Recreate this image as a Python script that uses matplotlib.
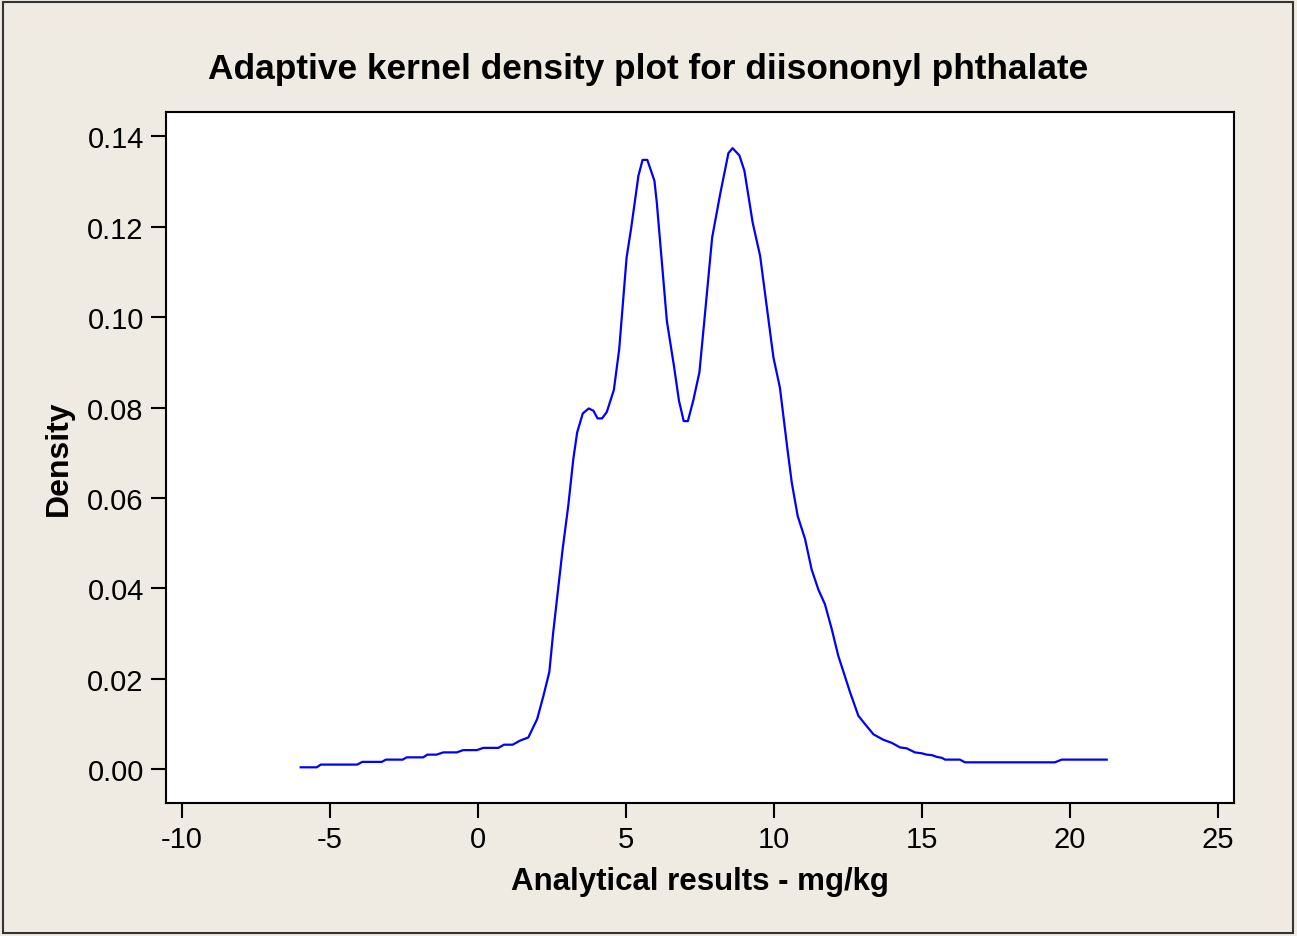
import matplotlib.pyplot as plt
from matplotlib.patches import Rectangle

# Density curve (x in mg/kg, y density)
x_vals = [-5.99, -5.45, -5.31, -4.08, -3.91, -3.25, -3.11, -2.54, -2.41, -1.85,
          -1.71, -1.40, -1.17, -0.72, -0.50, -0.04, 0.18, 0.69, 0.88, 1.17,
          1.42, 1.70, 2.00, 2.21, 2.41, 2.54, 2.68, 2.86, 3.05, 3.22,
          3.35, 3.54, 3.74, 3.90, 4.04, 4.19, 4.35, 4.59, 4.77, 5.02,
          5.17, 5.42, 5.56, 5.72, 5.96, 6.04, 6.38, 6.62, 6.79, 6.95,
          7.09, 7.27, 7.48, 7.63, 7.91, 8.18, 8.46, 8.60, 8.83, 9.00,
          9.28, 9.53, 9.98, 10.20, 10.45, 10.60, 10.80, 11.05, 11.27, 11.50,
          11.72, 11.95, 12.17, 12.57, 12.85, 13.07, 13.36, 13.69, 13.98, 14.26,
          14.48, 14.76, 14.99, 15.16, 15.33, 15.50, 15.67, 15.78, 16.28, 16.45,
          19.49, 19.72, 21.24]
density = [0.0004, 0.0004, 0.0010, 0.0010, 0.0016, 0.0016, 0.0021, 0.0021, 0.0026, 0.0026,
           0.0032, 0.0032, 0.0037, 0.0037, 0.0042, 0.0042, 0.0047, 0.0047, 0.0054, 0.0054,
           0.0063, 0.0070, 0.0111, 0.0162, 0.0215, 0.0302, 0.0383, 0.0487, 0.0583, 0.0686,
           0.0745, 0.0787, 0.0798, 0.0793, 0.0776, 0.0776, 0.0790, 0.0839, 0.0929, 0.1132,
           0.1195, 0.1313, 0.1348, 0.1348, 0.1302, 0.1254, 0.0992, 0.0892, 0.0815, 0.0770,
           0.0770, 0.0815, 0.0878, 0.0981, 0.1176, 0.1272, 0.1363, 0.1374, 0.1358, 0.1324,
           0.1209, 0.1136, 0.0911, 0.0844, 0.0710, 0.0634, 0.0560, 0.0509, 0.0442, 0.0397,
           0.0365, 0.0310, 0.0251, 0.0170, 0.0118, 0.0100, 0.0077, 0.0065, 0.0058, 0.0048,
           0.0046, 0.0037, 0.0035, 0.0032, 0.0031, 0.0027, 0.0025, 0.0021, 0.0021, 0.0015,
           0.0015, 0.0021, 0.0021]

x_ticks = [-10, -5, 0, 5, 10, 15, 20, 25]
y_ticks = [0.00, 0.02, 0.04, 0.06, 0.08, 0.10, 0.12, 0.14]

BG = "#EFEBE2"
plt.rcParams["font.family"] = ["Liberation Sans", "DejaVu Sans"]

fig = plt.figure(figsize=(12.97, 9.37), dpi=100, facecolor=BG)
ax = fig.add_axes([166 / 1297, 1 - 804 / 937, (1234 - 166) / 1297, (804 - 113) / 937])
ax.set_facecolor("white")

ax.plot(x_vals, density, color="#0000FF", linewidth=1.6)

ax.set_xlim(-10.54, 25.54)
ax.set_ylim(-0.0075, 0.1454)
ax.set_xticks(x_ticks)
ax.set_xticklabels([str(t) for t in x_ticks])
ax.set_yticks(y_ticks)
ax.set_yticklabels([f"{t:.2f}" for t in y_ticks])
ax.tick_params(direction="out", length=11, width=1.5, labelsize=21, pad=5, color="black")
for s in ax.spines.values():
    s.set_linewidth(1.5)

ax.set_xlabel("Analytical results - mg/kg", fontsize=22.5, fontweight="bold", labelpad=9)
ax.set_ylabel("Density", fontsize=23, fontweight="bold", labelpad=10)
fig.text(0.5, 1 - 69 / 937, "Adaptive kernel density plot for diisononyl phthalate",
         ha="center", va="center", fontsize=25.4, fontweight="bold")

# outer frame around the whole figure
fig.patches.append(Rectangle((0.002, 0.003), 0.995, 0.994, transform=fig.transFigure,
                             fill=False, edgecolor="#333333", linewidth=1.5))

fig.savefig("out.png", dpi=100, facecolor=BG)
